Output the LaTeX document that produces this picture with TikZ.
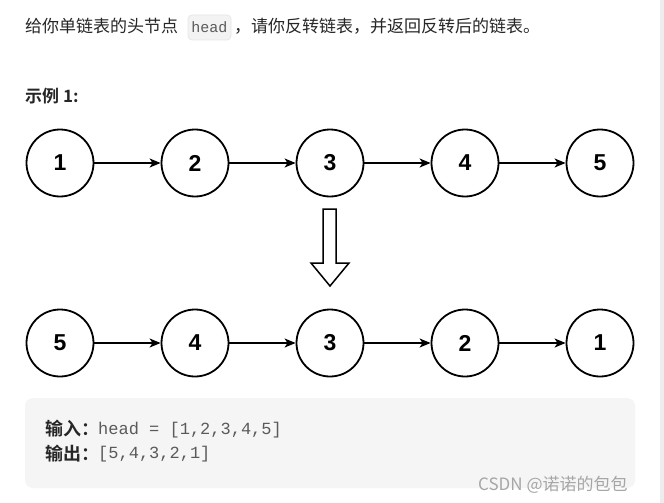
\documentclass[tikz,border=0pt]{standalone}
\usepackage{fontspec}
\setmainfont{Liberation Sans}
\newfontfamily\cjk{Noto Sans CJK SC}
\newfontfamily\cjkb{Noto Sans CJK SC}[BoldFont={* Bold}]
\newfontfamily\monof{Liberation Mono}
\newfontfamily\numf{Liberation Sans}
\usetikzlibrary{arrows.meta}
\definecolor{txt}{HTML}{262626}
\definecolor{codegray}{HTML}{5A5A5A}
\definecolor{boxbg}{HTML}{F5F5F5}
\definecolor{chipbg}{HTML}{F3F3F3}
\definecolor{chipline}{HTML}{E6E6E6}
\definecolor{strip}{HTML}{EDEDED}
\definecolor{wm}{HTML}{A6A6A6}
\tikzset{
  lnode/.style={circle, draw=black, line width=1.8pt, minimum size=67pt, inner sep=0pt,
    font=\numf\fontsize{23}{27}\selectfont\bfseries},
  link/.style={line width=1.6pt, -{Stealth[length=11pt,width=9pt,inset=3pt]}},
  cntext/.style={inner sep=0pt, anchor=west, text=txt, font=\cjk\fontsize{17}{20}\selectfont},
  cnbold/.style={inner sep=0pt, anchor=west, text=txt, font=\cjkb\fontsize{18}{21}\selectfont\bfseries},
  codetext/.style={inner sep=0pt, anchor=west, text=codegray, font=\monof\fontsize{17}{20}\selectfont},
}
\begin{document}
\begin{tikzpicture}[x=1pt,y=-1pt]
\fill[white] (0,0) rectangle (664,503);
\useasboundingbox (0,0) rectangle (664,503);
\fill[strip] (660,0) rectangle (664,503);

% top sentence
\node[cntext] (t1) at (25,26) {给你单链表的头节点};
\node[draw=chipline, fill=chipbg, rounded corners=4pt, line width=0.7pt,
  minimum width=43pt, minimum height=25pt, inner sep=0pt,
  text=codegray, font=\monof\fontsize{15}{18}\selectfont] (chip) at (209.5,27.5) {head};
\node[cntext] (t2) at (234,26) {，请你反转链表，并返回反转后的链表。};

% example title
\node[inner sep=0pt, anchor=west, text=txt, font=\cjkb\fontsize{17}{20}\selectfont\bfseries] (ex) at (25,96) {示例 1:};

% first list
\foreach \i/\v in {1/1,2/2,3/3,4/4,5/5}
  \node[lnode] (a\i) at ({60+135*(\i-1)},163) {\v};
\foreach \i/\j in {1/2,2/3,3/4,4/5}
  \draw[link] (a\i) -- (a\j);

% hollow arrow
\draw[line width=1.5pt, line join=miter, fill=white]
  (323,209) -- (336,209) -- (336,263) -- (349,263) -- (330,286) -- (311,263) -- (323,263) -- cycle;

% second list
\foreach \i/\v in {1/5,2/4,3/3,4/2,5/1}
  \node[lnode] (b\i) at ({60+135*(\i-1)},343) {\v};
\foreach \i/\j in {1/2,2/3,3/4,4/5}
  \draw[link] (b\i) -- (b\j);

% example box
\fill[boxbg, rounded corners=8pt] (25,398) rectangle (635,488);
\node[cnbold] (in) at (45,429) {输入：};
\node[codetext] (inv) at (98,430) {head = [1,2,3,4,5]};
\node[cnbold] (out) at (45,454) {输出：};
\node[codetext] (outv) at (98,454) {[5,4,3,2,1]};

% watermark
\node[inner sep=0pt, anchor=west, text=wm, font=\cjk\fontsize{17}{20}\selectfont] (wmk) at (478,485) {CSDN @诺诺的包包};
\end{tikzpicture}
\end{document}
